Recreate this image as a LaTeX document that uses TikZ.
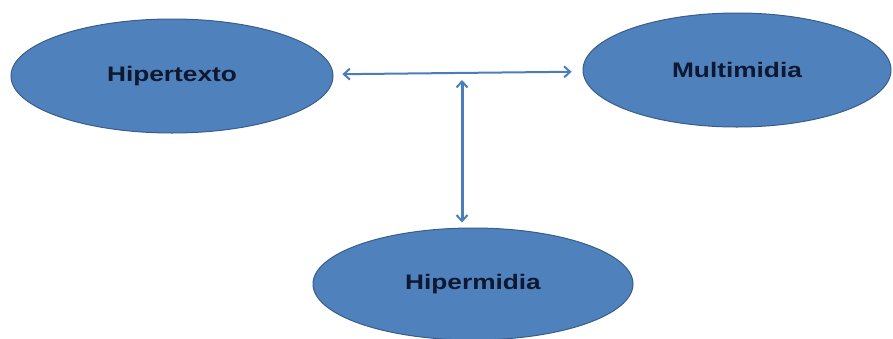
\documentclass[tikz,border=0pt]{standalone}
\usepackage{fontspec}
\usepackage{graphicx}
\setmainfont{Liberation Sans}
\usetikzlibrary{shapes.geometric,arrows.meta}

\definecolor{ovalfill}{RGB}{79,129,189}
\definecolor{ovalline}{RGB}{56,93,138}
\definecolor{linkblue}{RGB}{74,126,187}
\definecolor{labelink}{RGB}{14,24,48}

\tikzset{
  oval/.style={ellipse, draw=ovalline, line width=1pt, fill=ovalfill,
    inner sep=0pt, text=labelink,
    font=\fontsize{21}{21}\selectfont\bfseries},
  conn/.style={draw=linkblue, line width=2pt,
    {Straight Barb[length=6pt,width=11pt,line width=2pt]}-{Straight Barb[length=6pt,width=11pt,line width=2pt]}},
}
\newcommand{\widelabel}[1]{\scalebox{1.25}[1]{#1}}

\begin{document}
\begin{tikzpicture}[x=1pt,y=-1pt]
  \useasboundingbox[fill=white] (0,0) rectangle (893,338);

  % the three concepts
  \node[oval, minimum width=322pt, minimum height=114pt] (hip) at (172,76) {\widelabel{Hipertexto}};
  \node[oval, minimum width=308pt, minimum height=114pt] (mul) at (737,70) {\widelabel{Multimidia}};
  \node[oval, minimum width=320pt, minimum height=112pt] (hpm) at (473,284) {\widelabel{Hipermidia}};

  % links between them
  \coordinate (join) at (462,73);
  \draw[conn, shorten <=9pt, shorten >=11pt] (hip) -- (mul);
  \draw[conn, line width=3pt, shorten <=7pt, shorten >=5pt] (join) -- (join |- hpm.north);
\end{tikzpicture}
\end{document}
